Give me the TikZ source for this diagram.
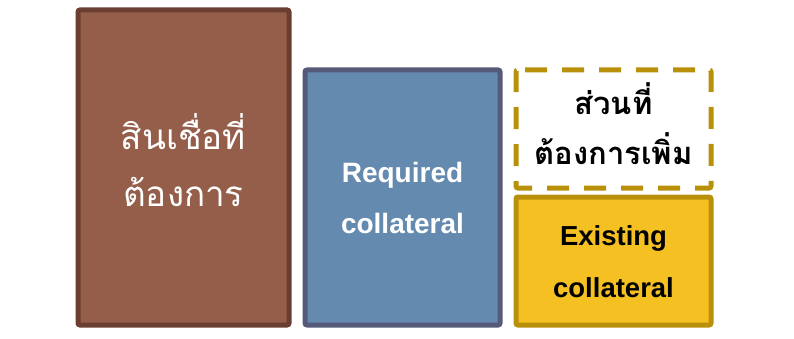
\documentclass[tikz,border=0pt]{standalone}
\usepackage{fontspec}
\setmainfont{Liberation Sans}
\newfontfamily\thaifont[Script=Thai]{Loma}
\definecolor{brownfill}{HTML}{955E4A}
\definecolor{browndraw}{HTML}{6A3F32}
\definecolor{bluefill}{HTML}{648BAF}
\definecolor{bluedraw}{HTML}{545A78}
\definecolor{goldfill}{HTML}{F5C122}
\definecolor{golddraw}{HTML}{B8900A}
\tikzset{
  box/.style={line width=5pt, rounded corners=2pt},
}
\begin{document}
\begin{tikzpicture}[x=1pt,y=-1pt]
\useasboundingbox (0,0) rectangle (794,339);
\draw[box, draw=browndraw, fill=brownfill] (78,10) rectangle (289,325);
\draw[box, draw=bluedraw, fill=bluefill] (305,70) rectangle (500,325);
\draw[box, draw=golddraw, dash pattern=on 22pt off 15pt, dash phase=30pt] (516,70) -- (711,70) -- (711,188) -- (516,188) -- cycle;
\draw[box, draw=golddraw, fill=goldfill] (516,197) rectangle (711,325);
\node[text=white, align=center, font=\thaifont\fontsize{35}{57}\selectfont] (loan) at (183.5,160) {สินเชื่อที่\\ต้องการ};
\node[text=white, align=center, font=\bfseries\fontsize{28}{51}\selectfont] (req) at (402.5,198) {Required\\collateral};
\node[text=black, align=center, font=\thaifont\bfseries\fontsize{31}{50}\selectfont] (add) at (613.5,124) {ส่วนที่\\ต้องการเพิ่ม};
\node[text=black, align=center, font=\bfseries\fontsize{27.5}{52}\selectfont] (ex) at (613.5,262) {Existing\\collateral};
\end{tikzpicture}
\end{document}
